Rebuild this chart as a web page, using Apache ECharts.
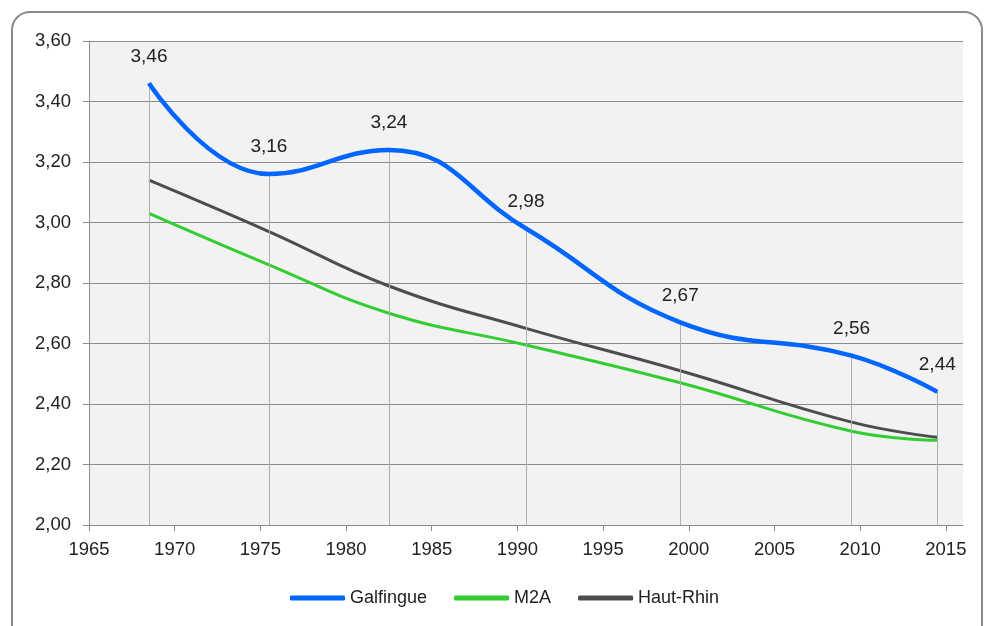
<!DOCTYPE html>
<html>
<head>
<meta charset="utf-8">
<script src="https://cdn.jsdelivr.net/npm/echarts@6/dist/echarts.min.js"></script>
<style>
  html, body { margin: 0; padding: 0; background: #fff; }
  #chart { width: 984px; height: 626px; }
</style>
</head>
<body>
<div id="chart"></div>
<script>
// census years (plotted at mid-year)
const years = [1968.5, 1975.5, 1982.5, 1990.5, 1999.5, 2009.5, 2014.5];
const galfingue = [3.46, 3.16, 3.24, 2.98, 2.67, 2.56, 2.44];
const m2a = [3.03, 2.86, 2.70, 2.595, 2.47, 2.31, 2.28];
const hautRhin = [3.14, 2.97, 2.79, 2.65, 2.51, 2.34, 2.29];
const xTickYears = [1965, 1970, 1975, 1980, 1985, 1990, 1995, 2000, 2005, 2010, 2015];

const fmt = v => Number(v).toFixed(2).replace('.', ',');
const pairs = arr => years.map((y, i) => [y, arr[i]]);

const chart = echarts.init(document.getElementById('chart'));

const font = 'Liberation Sans, Arial, sans-serif';

chart.setOption({
    animation: false,
    backgroundColor: '#fff',
    textStyle: { fontFamily: font },
    graphic: [{
        type: 'rect',
        shape: { x: 12, y: 12, width: 970, height: 640, r: 18 },
        style: { fill: 'none', stroke: '#8a8a8a', lineWidth: 2 },
        z: -1
    }],
    grid: {
        left: 89, right: 21, top: 41, bottom: 101,
        show: true,
        backgroundColor: '#f2f2f2',
        borderWidth: 0
    },
    legend: {
        data: ['Galfingue', 'M2A', 'Haut-Rhin'],
        top: 584,
        left: 285,
        itemWidth: 55,
        itemHeight: 5,
        itemGap: 27,
        icon: 'roundRect',
        textStyle: { fontSize: 18, color: '#222', fontFamily: font }
    },
    xAxis: {
        type: 'value',
        min: 1965,
        max: 2016,
        interval: 5,
        axisLine: { show: true, lineStyle: { color: '#8c8c8c', width: 1 } },
        axisTick: { show: true, length: 6, customValues: xTickYears, lineStyle: { color: '#8c8c8c' } },
        axisLabel: { customValues: xTickYears, fontSize: 18.5, color: '#222', margin: 15, formatter: v => String(v) },
        splitLine: { show: false }
    },
    yAxis: {
        type: 'value',
        min: 2.0,
        max: 3.6,
        interval: 0.2,
        axisLine: { show: true, lineStyle: { color: '#8c8c8c', width: 1 } },
        axisTick: { show: true, length: 6, inside: false, lineStyle: { color: '#8c8c8c' } },
        axisLabel: { fontSize: 18.5, color: '#222', margin: 18, formatter: fmt },
        splitLine: { show: true, lineStyle: { color: '#8c8c8c', width: 1 } }
    },
    series: [
        {
            name: 'drop',
            type: 'line',
            data: pairs(galfingue),
            showSymbol: false,
            lineStyle: { opacity: 0 },
            z: 1,
            silent: true,
            markLine: {
                symbol: 'none',
                silent: true,
                label: { show: false },
                lineStyle: { color: '#b0b0b0', width: 1, type: 'solid' },
                data: years.map((y, i) => [{ coord: [y, galfingue[i]] }, { coord: [y, 2.0] }])
            }
        },
        {
            name: 'Galfingue',
            type: 'line',
            data: pairs(galfingue),
            smooth: 0.45,
            showSymbol: true,
            symbol: 'circle',
            symbolSize: 1,
            z: 5,
            color: '#0066ff',
            itemStyle: { color: '#0066ff' },
            lineStyle: { color: '#0066ff', width: 4.5 },
            label: {
                show: true,
                position: 'top',
                distance: 17,
                fontSize: 19,
                color: '#222',
                fontFamily: font,
                formatter: p => fmt(p.value[1])
            }
        },
        {
            name: 'M2A',
            type: 'line',
            data: pairs(m2a),
            smooth: 0.45,
            symbol: 'none',
            z: 3,
            color: '#33cc33',
            lineStyle: { color: '#33cc33', width: 3 }
        },
        {
            name: 'Haut-Rhin',
            type: 'line',
            data: pairs(hautRhin),
            smooth: 0.45,
            symbol: 'none',
            z: 4,
            color: '#4d4d4d',
            lineStyle: { color: '#4d4d4d', width: 3 }
        }
    ]
});
</script>
</body>
</html>
